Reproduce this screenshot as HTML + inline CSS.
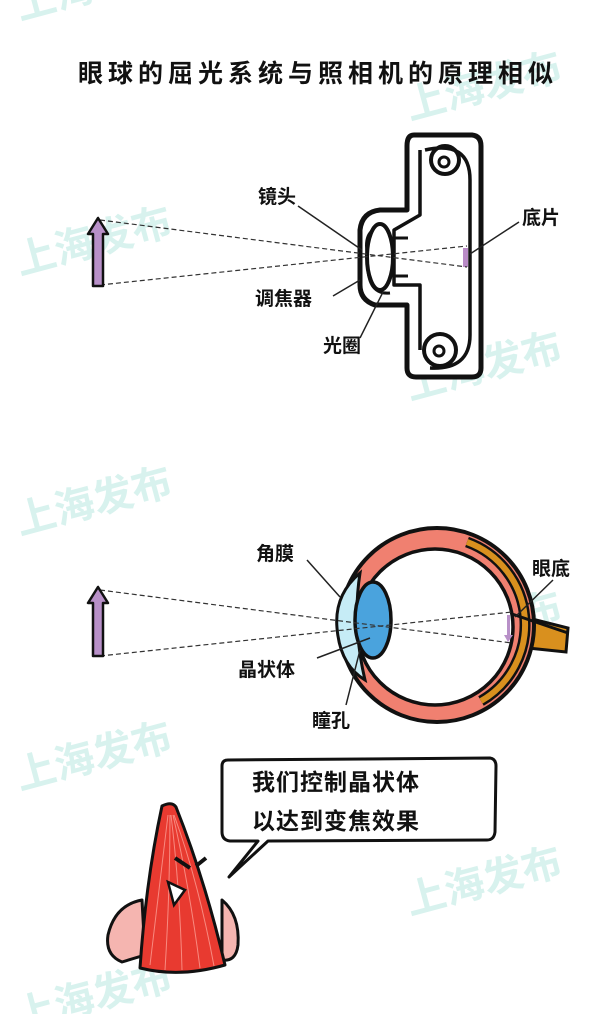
<!DOCTYPE html>
<html><head><meta charset="utf-8"><style>
html,body{margin:0;padding:0;background:#fff;}
svg{display:block;}
text{font-family:"Liberation Sans","Noto Sans CJK SC",sans-serif;}
</style></head><body>
<svg width="600" height="1014" viewBox="0 0 600 1014" xmlns="http://www.w3.org/2000/svg">
<g fill="#d8f2ee" font-size="40" font-weight="bold">
<text x="20" y="20" transform="rotate(-15 20 20)">上海发布</text>
<text x="410" y="120" transform="rotate(-15 410 120)">上海发布</text>
<text x="20" y="275" transform="rotate(-15 20 275)">上海发布</text>
<text x="410" y="400" transform="rotate(-15 410 400)">上海发布</text>
<text x="20" y="535" transform="rotate(-15 20 535)">上海发布</text>
<text x="410" y="660" transform="rotate(-15 410 660)">上海发布</text>
<text x="20" y="790" transform="rotate(-15 20 790)">上海发布</text>
<text x="410" y="915" transform="rotate(-15 410 915)">上海发布</text>
<text x="20" y="1030" transform="rotate(-15 20 1030)">上海发布</text>
</g>
<text x="78" y="82" font-size="25" font-weight="bold" fill="#111" letter-spacing="5">眼球的屈光系统与照相机的原理相似</text>

<!-- camera -->
<g fill="none" stroke="#111" stroke-width="5" stroke-linejoin="round">
<path d="M414,135 L472,135 Q481,136 481,146 L481,368 Q481,377 472,377 L416,377 Q407,377 407,368 L407,305 L375,305 Q360,300 360,285 L360,230 Q362,212 380,210 L407,210 L407,146 Q407,135 414,135 Z" fill="#fff"/>
<path d="M420,150 L420,215 L394,230 L394,285 L420,285 L420,350" stroke-width="3.5"/>
<path d="M425,150 Q470,140 470,180 L470,335 Q470,370 430,368" stroke-width="3.5"/>
<circle cx="445" cy="160" r="14" stroke-width="4"/>
<circle cx="444" cy="162" r="5" stroke-width="3"/>
<circle cx="440" cy="350" r="16" stroke-width="4"/>
<circle cx="439" cy="351" r="5" stroke-width="3"/>
<path d="M380,228 Q362,230 368,258 L368,270 Q370,295 390,293" stroke-width="3"/>
<ellipse cx="380" cy="257" rx="13" ry="33" fill="#fff" stroke-width="4"/>
<line x1="394" y1="238" x2="408" y2="238" stroke-width="3"/>
<line x1="394" y1="276" x2="408" y2="276" stroke-width="3"/>
</g>
<rect x="463" y="248" width="5" height="19" fill="#b98bc6"/>
<g stroke="#333" stroke-width="1.2" stroke-dasharray="5,3">
<line x1="100" y1="220" x2="467" y2="267"/>
<line x1="100" y1="285" x2="467" y2="246"/>
</g>
<path d="M98,218 L88,234 L93,234 L93,286 L103,286 L103,234 L108,234 Z" fill="#b890c8" stroke="#111" stroke-width="2.5" stroke-linejoin="round"/>
<g stroke="#222" stroke-width="1.5" fill="none">
<line x1="298" y1="206" x2="362" y2="250"/>
<line x1="333" y1="296" x2="360" y2="280"/>
<line x1="360" y1="338" x2="383" y2="292"/>
<line x1="519" y1="222" x2="470" y2="254"/>
</g>
<g font-size="19" fill="#111" font-weight="bold">
<text x="258" y="203">镜头</text>
<text x="255" y="305">调焦器</text>
<text x="323" y="352">光圈</text>
<text x="522" y="224">底片</text>
</g>

<!-- eye -->
<path d="M528,618 L568,628 L566,652 L528,648 Z" fill="#d9901e" stroke="#111" stroke-width="3"/>
<circle cx="437" cy="625" r="97" fill="#f08070" stroke="#111" stroke-width="4"/>
<path d="M467,542 A88,88 0 0 1 481,701" fill="none" stroke="#111" stroke-width="11"/>
<path d="M467,542 A88,88 0 0 1 481,701" fill="none" stroke="#d9901e" stroke-width="6"/>
<circle cx="435" cy="627" r="78" fill="#fff" stroke="#111" stroke-width="3.5"/>
<path d="M512,614 L568,633" stroke="#111" stroke-width="3"/>
<path d="M360,573 Q334,595 337,628 Q340,665 365,680 Q352,625 360,573 Z" fill="#c6ecf6" stroke="#111" stroke-width="3"/>
<ellipse cx="373" cy="620" rx="18" ry="38" fill="#4aa3dd" stroke="#111" stroke-width="3.5"/>
<g stroke="#333" stroke-width="1.2" stroke-dasharray="5,3">
<line x1="100" y1="590" x2="512" y2="643"/>
<line x1="100" y1="656" x2="512" y2="612"/>
</g>
<path d="M507,615 L510,615 L510,635 L513,635 L508,642 L504,635 L507,635Z" fill="#b890c8"/>
<path d="M98,587 L88,603 L93,603 L93,656 L103,656 L103,603 L108,603 Z" fill="#b890c8" stroke="#111" stroke-width="2.5" stroke-linejoin="round"/>
<g stroke="#222" stroke-width="1.5" fill="none">
<line x1="307" y1="560" x2="340" y2="597"/>
<line x1="553" y1="580" x2="515" y2="617"/>
<line x1="317" y1="658" x2="370" y2="638"/>
<line x1="346" y1="705" x2="360" y2="650"/>
</g>
<g font-size="19" fill="#111" font-weight="bold">
<text x="256" y="560">角膜</text>
<text x="532" y="575">眼底</text>
<text x="238" y="676">晶状体</text>
<text x="312" y="727">瞳孔</text>
</g>

<!-- bubble -->
<path d="M228,760 L490,758 Q496,759 496,766 L495,832 Q494,840 487,840 L268,841 L229,877 L258,841 L230,841 Q222,840 222,832 L222,766 Q222,760 228,760 Z" fill="#fff" stroke="#111" stroke-width="3" stroke-linejoin="round"/>
<g font-size="23" fill="#111" font-weight="bold" letter-spacing="1">
<text x="252" y="790">我们控制晶状体</text>
<text x="252" y="829">以达到变焦效果</text>
</g>

<!-- character -->
<g stroke="#111" stroke-width="3" stroke-linejoin="round">
<path d="M142,900 Q115,905 108,935 Q105,955 122,962 L145,955 Z" fill="#f5b5b0"/>
<path d="M222,900 Q240,915 238,945 Q236,962 222,960 Z" fill="#f5b5b0"/>
<path d="M162,806 Q172,801 176,807 Q205,880 225,965 Q180,978 140,968 Q146,880 162,806 Z" fill="#e83a30"/>
</g>
<g stroke="#f88a80" stroke-width="1" fill="none">
<path d="M168,815 Q160,880 150,965"/><path d="M170,815 Q170,890 165,970"/><path d="M171,815 Q180,890 182,970"/><path d="M173,815 Q190,890 200,968"/><path d="M174,815 Q198,880 214,966"/>
</g>
<path d="M175,858 L190,868 M196,866 L206,858" stroke="#111" stroke-width="4"/>
<path d="M168,882 L185,890 L174,905 Z" fill="#fff" stroke="#111" stroke-width="2.5"/>
</svg>
</body></html>
